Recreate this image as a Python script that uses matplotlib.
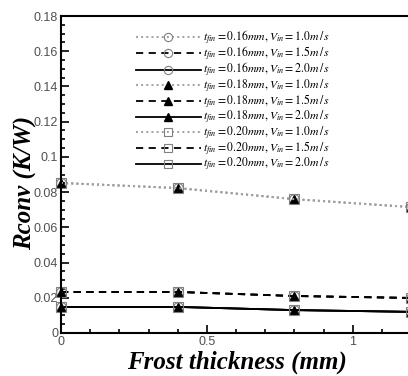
import matplotlib
matplotlib.use("Agg")
import matplotlib.pyplot as plt
from matplotlib.ticker import MultipleLocator, FuncFormatter

frost = [0.0, 0.4, 0.8, 1.2]
fin_thickness = ["0.16", "0.18", "0.20"]
velocities = ["1.0", "1.5", "2.0"]
r_v10 = [0.0852, 0.0823, 0.0760, 0.0715]
r_v15 = [0.0233, 0.0233, 0.0210, 0.0199]
r_v20 = [0.0148, 0.0148, 0.0130, 0.0120]
series = {"1.0": r_v10, "1.5": r_v15, "2.0": r_v20}

plt.rcParams['mathtext.fontset'] = 'stix'
fig = plt.figure(figsize=(4.08, 3.76), dpi=100)
ax = fig.add_axes([0.1495, 0.1144, 0.858, 0.843])

line_styles = {"1.0": dict(color="#a0a0a0", ls=":", lw=1.4),
               "1.5": dict(color="black", ls=(0, (4, 3)), lw=1.3),
               "2.0": dict(color="black", ls="-", lw=1.3)}
marker_styles = {"0.16": dict(marker="o", mfc="none", mec="#808080", ms=7, mew=0.8),
                 "0.18": dict(marker="^", mfc="black", mec="black", ms=6),
                 "0.20": dict(marker="s", mfc="none", mec="#808080", ms=6.5, mew=0.8)}

for t in fin_thickness:
    for v in velocities:
        lab = r"$t_{fin}=%smm,V_{in}=%sm\,/\,s$" % (t, v)
        ax.plot(frost, series[v], label=lab, clip_on=False,
                **line_styles[v], **marker_styles[t])

ax.set_xlim(0, 1.2)
ax.set_ylim(0, 0.18)
ax.xaxis.set_major_locator(MultipleLocator(0.5))
ax.xaxis.set_minor_locator(MultipleLocator(0.1))
ax.yaxis.set_major_locator(MultipleLocator(0.02))
ax.yaxis.set_minor_locator(MultipleLocator(0.005))
fmt = FuncFormatter(lambda v, p: ("%g" % round(v, 3)))
ax.xaxis.set_major_formatter(fmt)
ax.yaxis.set_major_formatter(fmt)
ax.tick_params(which="both", direction="in", top=False, right=False,
               labelsize=9, labelcolor="#505050", width=1.2)
ax.tick_params(which="major", length=6)
ax.tick_params(which="minor", length=3)
for lbl in ax.get_xticklabels() + ax.get_yticklabels():
    lbl.set_family("Liberation Sans")
ax.tick_params(axis="y", pad=2)
ax.tick_params(axis="x", pad=2)
for s in ax.spines.values():
    s.set_linewidth(1.5)

ax.set_xlabel("Frost thickness (mm)", family="Liberation Serif", style="italic",
              weight="bold", fontsize=18)
ax.xaxis.set_label_coords(0.503, -0.055)
ax.set_ylabel("Rconv (K/W)", family="Liberation Serif", style="italic",
              weight="bold", fontsize=18)
ax.yaxis.set_label_coords(-0.068, 0.473)

ax.legend(loc="upper left", bbox_to_anchor=(0.2, 0.975), frameon=False,
          fontsize=8.5, handlelength=5.5, labelspacing=-0.15, handletextpad=0.2,
          borderaxespad=0, markerscale=0.85)

fig.savefig("out.png", dpi=100)
